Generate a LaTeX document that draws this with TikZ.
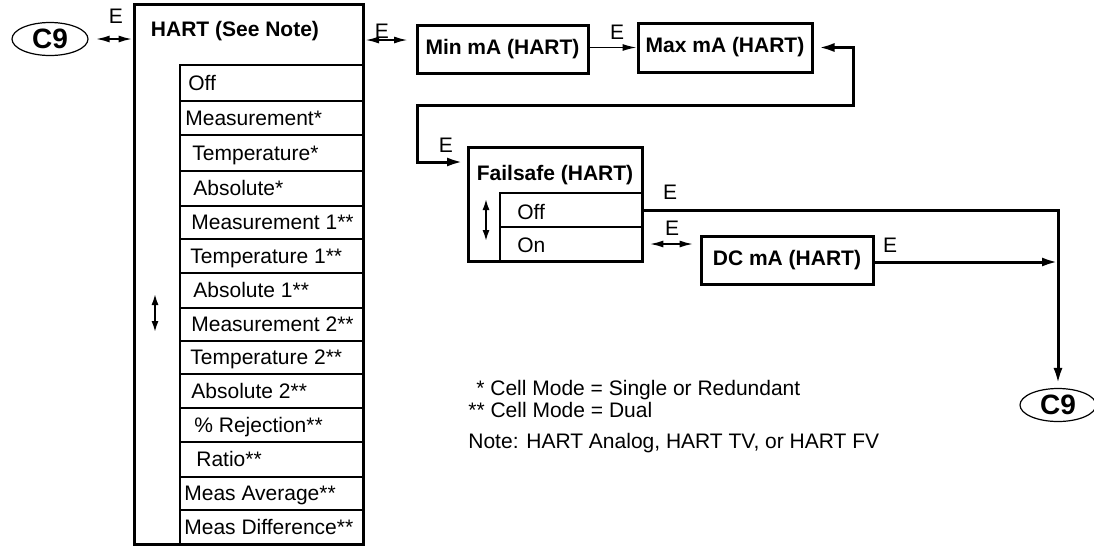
\documentclass[tikz,border=0pt]{standalone}
\usepackage{fontspec}
\setmainfont{Liberation Sans}
\usetikzlibrary{arrows.meta,shapes.geometric}
\begin{document}
\begin{tikzpicture}[x=0.5pt,y=-0.5pt,
  font=\fontsize{10.5}{12.6}\selectfont,
  every node/.style={inner sep=0pt},
  frame/.style={draw, line width=1.5pt},
  cell/.style={draw, line width=1.4pt, minimum width=91.5pt},
  itm/.style={anchor=base west},
  ttl/.style={font=\fontsize{10.5}{12.6}\selectfont\bfseries},
  circ/.style={draw, ellipse, line width=0.6pt, minimum width=38pt, minimum height=16.5pt, font=\fontsize{14}{16}\selectfont\bfseries},
  conn/.style={line width=1.5pt, -{Latex[length=8pt,width=4.5pt]}},
  conn2/.style={line width=1.5pt, {Latex[length=8pt,width=4.5pt]}-{Latex[length=8pt,width=4.5pt]}},
  thin/.style={line width=0.7pt, -{Latex[length=7pt,width=3.5pt]}},
  dbl/.style={line width=1pt, {Latex[length=7pt,width=3.5pt]}-{Latex[length=7pt,width=3.5pt]}},
  updn/.style={line width=1.3pt, {Latex[length=6pt,width=3.5pt]}-{Latex[length=6pt,width=3.5pt]}}
]
\useasboundingbox (0,0) rectangle (1094,548);

% left C9 and HART menu
\node[circ] (c9a) at (50,39) {C9};
\node[frame, minimum width=114.5pt, minimum height=270pt] (hart) at (248.5,274) {};
\node[ttl] (hartt) at (235,31) {HART (See Note)};

\foreach \i/\t/\b/\x/\s in {
  1/65/101/188/Off,
  2/101/135/185/Measurement*,
  3/135/171/192/Temperature*,
  4/171/206/193/Absolute*,
  5/206/239/191/Measurement 1**,
  6/239/273/190/Temperature 1**,
  7/273/308/193/Absolute 1**,
  8/308/341/191/Measurement 2**,
  9/341/374/190/Temperature 2**,
  10/374/408/191/Absolute 2**,
  11/408/442/194/\% Rejection**,
  12/442/477/196/Ratio**,
  13/477/510/184/Meas Average**,
  14/510/544/184/Meas Difference**}{
  \node[cell, minimum height={(\b-\t)/2}] (r\i) at (271.5,{(\t+\b)/2}) {};
  \node[itm] (t\i) at (\x,{(\t+\b)/2+7}) {\s};
}
\coordinate (ua) at (155,293);
\coordinate (ub) at (155,333);
\draw[updn] (ua) -- (ub);

% Min / Max
\node[frame, minimum width=85.5pt, minimum height=24pt, font=\fontsize{10.5}{12.6}\selectfont\bfseries] (minb) at (502.5,49) {Min mA (HART)};
\node[frame, minimum width=87pt, minimum height=24.5pt, font=\fontsize{10.5}{12.6}\selectfont\bfseries] (maxb) at (725,47.5) {Max mA (HART)};

% Failsafe
\node[frame, minimum width=87pt, minimum height=57pt] (fs) at (555,204) {};
\node[ttl] (fst) at (555,175) {Failsafe (HART)};
\node[cell, minimum width=71pt, minimum height=17pt] (foff) at (571,210) {};
\node[cell, minimum width=71pt, minimum height=17pt] (fon) at (571,244) {};
\node[itm] (fofft) at (517,219) {Off};
\node[itm] (font) at (517,252) {On};
\coordinate (fa) at (486,198);
\coordinate (fb) at (486,242);
\draw[updn] (fa) -- (fb);

% DC mA
\node[frame, minimum width=86pt, minimum height=24pt, font=\fontsize{10.5}{12.6}\selectfont\bfseries] (dc) at (787,260) {DC mA (HART)};

% right C9
\node[circ] (c9b) at (1058,405) {C9};

% connectors
\draw[dbl] ([xshift=3.5pt]c9a.east) -- (hart.west |- c9a);
\node (e1) at (116,16) {E};

\coordinate (h1) at (365,40);
\coordinate (h2) at (408,40);
\draw[dbl] (h1) -- (h2);
\node (e2) at (382,31) {E};

\draw[thin] (minb.east |- maxb) -- (maxb.west);
\node (e3) at (617,32) {E};

\coordinate (k1) at (853,105);
\coordinate (k2) at (417,105);
\coordinate (k3) at (463,162);
\draw[conn2] ([xshift=2.5pt]maxb.east) -| (k1) -- (k2) |- (k3);
\node (e4) at (446,145) {E};

\draw[conn, shorten >=2pt] (foff.east) -| (c9b.north);
\node (e5) at (670,192) {E};

\draw[dbl] ([xshift=3pt]fon.east) -- ([xshift=-3pt]fon.east -| dc.west);
\node (e6) at (672,228) {E};

\draw[conn] (dc.east |- 0,262) -- (c9b.north |- 0,262);
\node (e7) at (890,245) {E};

% notes
\node[itm] (n1) at (476,395) {* Cell Mode = Single or Redundant};
\node[itm] (n2) at (468,417) {** Cell Mode = Dual};
\node[itm] (n3) at (468,448) {Note: HART Analog, HART TV, or HART FV};
\end{tikzpicture}
\end{document}
